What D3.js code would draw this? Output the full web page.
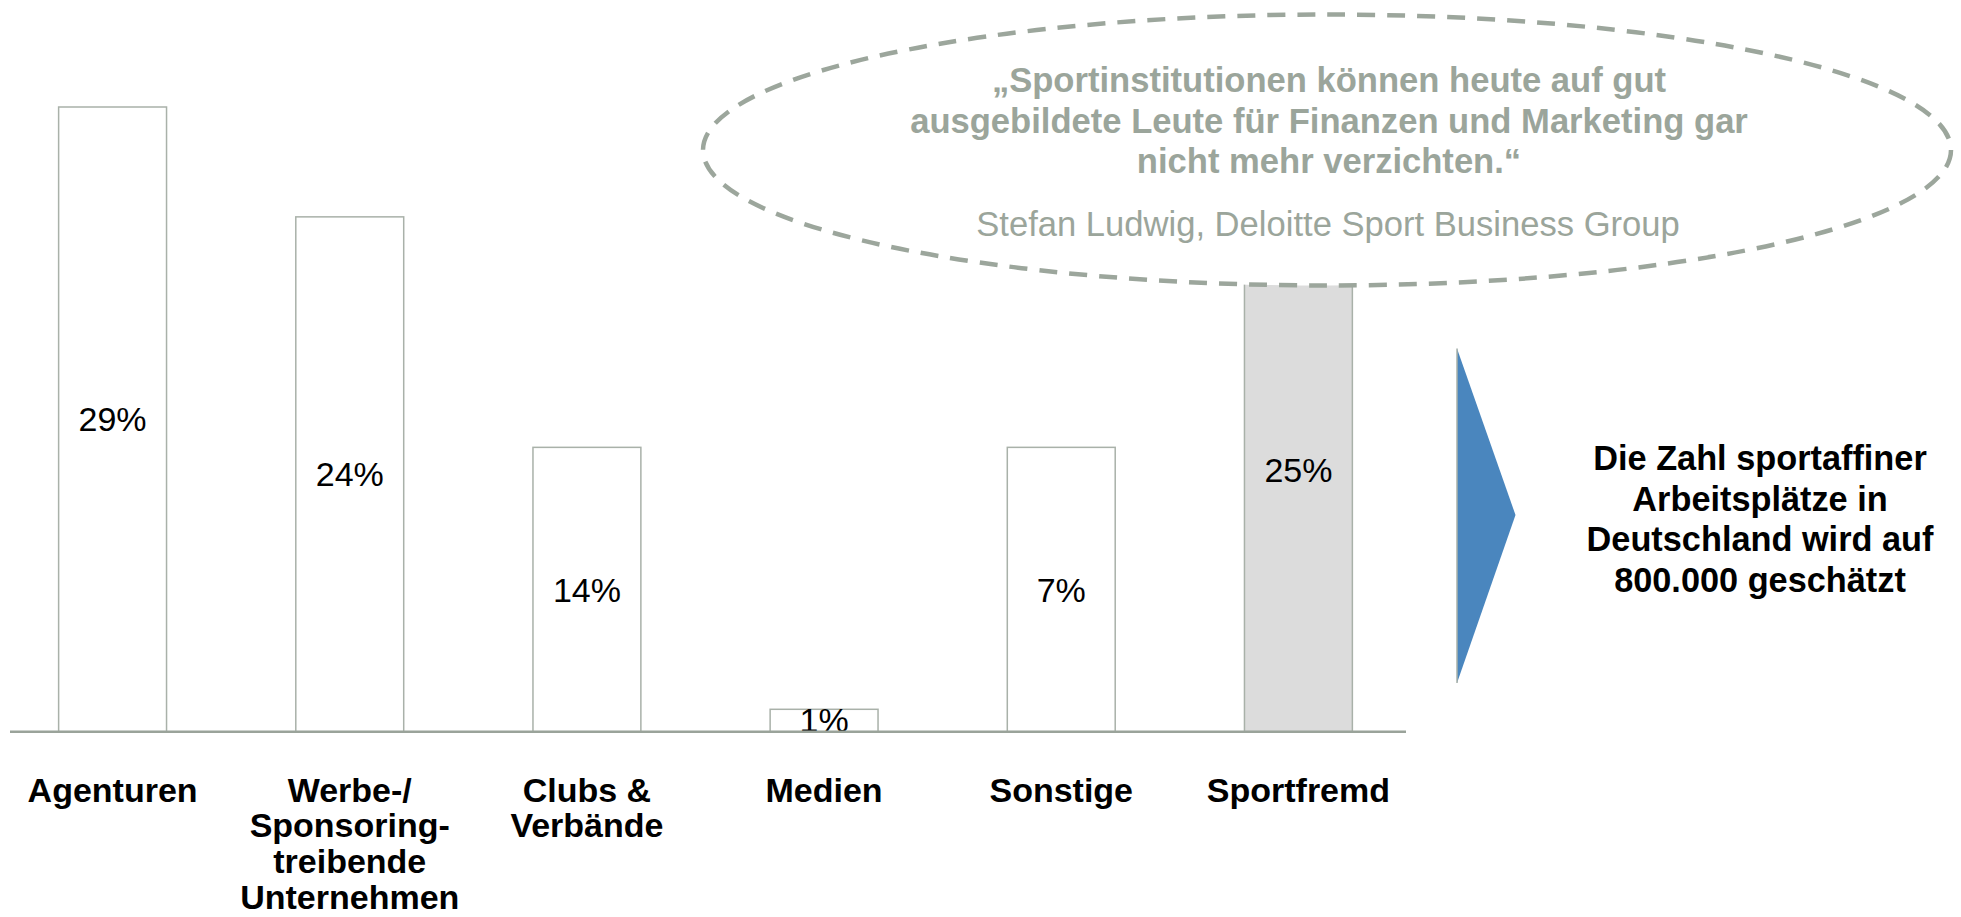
<!DOCTYPE html>
<html>
<head>
<meta charset="utf-8">
<script src="https://cdn.jsdelivr.net/npm/d3@7"></script>
<style>
  html, body { margin: 0; padding: 0; background: #ffffff; }
  svg { display: block; }
  text { font-family: "Liberation Sans", Arial, sans-serif; }
</style>
</head>
<body>
<svg id="chart" width="1961" height="917"></svg>
<script>
// ---- data ----
const categories = ["Agenturen", "Werbe-/ Sponsoring-treibende Unternehmen", "Clubs & Verbände", "Medien", "Sonstige", "Sportfremd"];
const categoryLines = [
  ["Agenturen"],
  ["Werbe-/", "Sponsoring-", "treibende", "Unternehmen"],
  ["Clubs &", "Verbände"],
  ["Medien"],
  ["Sonstige"],
  ["Sportfremd"]
];
const shares = [29, 24, 14, 1, 7, 25];             // printed percentages
const barHeights = [29, 23.9, 13.2, 1.04, 13.2, 24.3]; // drawn bar heights
const highlighted = [false, false, false, false, false, true];
const quoteLines = [
  "\u201ESportinstitutionen können heute auf gut",
  "ausgebildete Leute für Finanzen und Marketing gar",
  "nicht mehr verzichten.\u201C"
];
const quoteAuthor = "Stefan Ludwig, Deloitte Sport Business Group";
const conclusionLines = [
  "Die Zahl sportaffiner",
  "Arbeitsplätze in",
  "Deutschland wird auf",
  "800.000 geschätzt"
];

// ---- layout ----
const svg = d3.select("#chart");
const baseY = 731.7;
const x = d3.scaleBand()
  .domain(categories)
  .range([-6, 1417])
  .paddingInner(0.545)
  .paddingOuter(0.2725);
const y = d3.scaleLinear().domain([0, 29]).range([baseY, 107]);

const barStroke = "#a9b1a9";
const grayText = "#9ba59b";

const rows = categories.map((c, i) => ({
  cat: c, h: barHeights[i], share: shares[i], hl: highlighted[i], lines: categoryLines[i]
}));

// bars
svg.append("g").selectAll("rect")
  .data(rows)
  .join("rect")
  .attr("x", d => x(d.cat))
  .attr("y", d => y(d.h))
  .attr("width", x.bandwidth())
  .attr("height", d => y(0) - y(d.h))
  .attr("fill", d => d.hl ? "#dcdcdc" : "#ffffff")
  .attr("stroke", barStroke)
  .attr("stroke-width", 1.5);

// value labels (centered in bar)
svg.append("g").selectAll("text")
  .data(rows)
  .join("text")
  .attr("x", d => x(d.cat) + x.bandwidth() / 2)
  .attr("y", d => (y(d.h) + y(0)) / 2 + 12)
  .attr("text-anchor", "middle")
  .attr("font-size", 34)
  .attr("fill", "#000")
  .text(d => d.share + "%");

// baseline
svg.append("line")
  .attr("x1", 10).attr("x2", 1406)
  .attr("y1", y(0)).attr("y2", y(0))
  .attr("stroke", "#9aa39a")
  .attr("stroke-width", 2.5);

// category labels
const catG = svg.append("g").selectAll("text")
  .data(rows)
  .join("text")
  .attr("text-anchor", "middle")
  .attr("font-size", 34)
  .attr("font-weight", "bold")
  .attr("fill", "#000");
catG.selectAll("tspan")
  .data(d => d.lines.map(l => ({ l, cx: x(d.cat) + x.bandwidth() / 2 })))
  .join("tspan")
  .attr("x", t => t.cx)
  .attr("y", (t, i) => 801.5 + i * 35.8)
  .text(t => t.l);

// quote ellipse (white fill covers top of Sportfremd bar)
svg.append("ellipse")
  .attr("cx", 1327).attr("cy", 150)
  .attr("rx", 624).attr("ry", 135.5)
  .attr("fill", "#ffffff")
  .attr("stroke", "#9ca69c")
  .attr("stroke-width", 4.5)
  .attr("stroke-dasharray", "18 12");

svg.append("g").selectAll("text")
  .data(quoteLines)
  .join("text")
  .attr("x", 1329)
  .attr("y", (d, i) => 92 + i * 40.6)
  .attr("text-anchor", "middle")
  .attr("font-size", 34.6)
  .attr("font-weight", "bold")
  .attr("fill", grayText)
  .text(d => d);

svg.append("text")
  .attr("x", 1328)
  .attr("y", 236)
  .attr("text-anchor", "middle")
  .attr("font-size", 34.6)
  .attr("fill", grayText)
  .text(quoteAuthor);

// arrow triangle
const tri = [[1457, 348.5], [1515.5, 515], [1457, 683]];
svg.append("path")
  .attr("d", d3.line()(tri) + "Z")
  .attr("fill", "#4a86be");
svg.append("line")
  .attr("x1", 1457).attr("x2", 1457)
  .attr("y1", 348.5).attr("y2", 683)
  .attr("stroke", "#a9b1a9")
  .attr("stroke-width", 1.5);

// conclusion text
svg.append("g").selectAll("text")
  .data(conclusionLines)
  .join("text")
  .attr("x", 1760)
  .attr("y", (d, i) => 470 + i * 40.6)
  .attr("text-anchor", "middle")
  .attr("font-size", 34.3)
  .attr("font-weight", "bold")
  .attr("fill", "#000")
  .text(d => d);
</script>
</body>
</html>
